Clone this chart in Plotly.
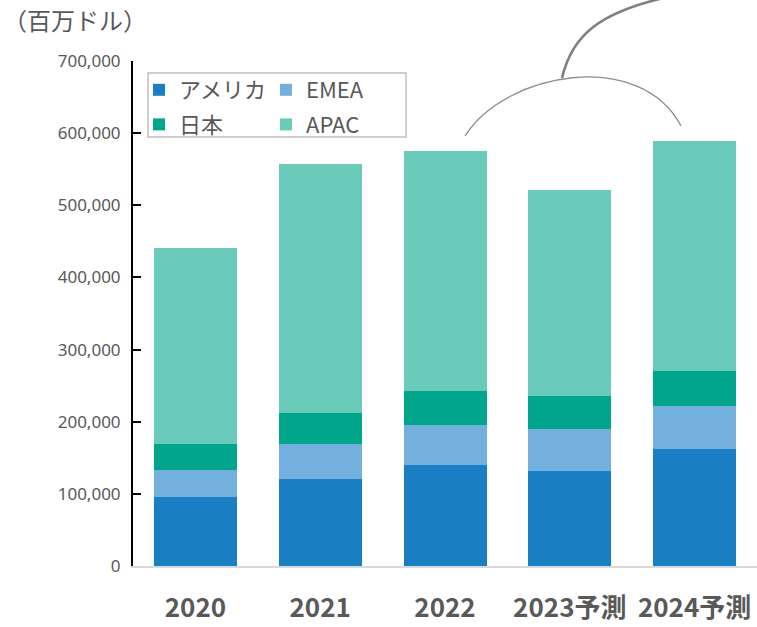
import plotly.graph_objects as go

categories = ["2020", "2021", "2022", "2023予測", "2024予測"]
america = [95800, 120800, 140300, 132000, 161500]
emea = [37500, 48600, 54600, 58300, 60700]
japan = [36100, 43100, 47200, 45800, 48600]
apac = [270900, 344400, 332900, 284700, 318100]
y_ticks = [0, 100000, 200000, 300000, 400000, 500000, 600000, 700000]

series = [
    ("アメリカ", america, "#1A7EC2", "legend", "g1"),
    ("EMEA", emea, "#74B0DD", "legend2", "g2"),
    ("日本", japan, "#00A68C", "legend", "g3"),
    ("APAC", apac, "#6BCBBB", "legend2", "g4"),
]

W, H = 757, 627
L, R, T, B = 133, 0, 61, 61
pw, ph = W - L - R, H - T - B

def px(x):
    return (x - L) / pw

def py(y):
    return (H - B - y) / ph

fig = go.Figure()
for name, vals, color, leg, grp in series:
    fig.add_trace(go.Bar(
        x=categories, y=vals, name=name, marker_color=color,
        marker_line_width=0, width=0.665, legend=leg, legendgroup=grp,
    ))

font_main = "Noto Sans CJK JP"
legend_common = dict(
    bgcolor="rgba(0,0,0,0)", borderwidth=0,
    font=dict(family=font_main, size=22, color="#595959"),
    traceorder="grouped", tracegroupgap=3,
    xanchor="left", yanchor="top", xref="paper", yref="paper",
)
fig.update_layout(
    width=W, height=H,
    margin=dict(l=L, r=R, t=T, b=B),
    paper_bgcolor="white", plot_bgcolor="white",
    barmode="stack", bargap=0.335,
    font=dict(family=font_main, color="#595959"),
    legend=dict(x=px(139), y=py(69), **legend_common),
    legend2=dict(x=px(266), y=py(69), **legend_common),
    xaxis=dict(
        showline=True, linecolor="#D9D9D9", linewidth=2,
        showgrid=False, ticks="", ticklabelstandoff=18,
        tickfont=dict(family=font_main, size=26, color="#595959", weight="bold"),
        range=[-0.5, 4.5],
    ),
    yaxis=dict(
        range=[0, 700000], tickvals=y_ticks, tickformat=",",
        showline=True, linecolor="black", linewidth=2,
        ticks="inside", ticklen=8, tickwidth=2, tickcolor="black",
        showgrid=False, zeroline=False,
        tickfont=dict(family="Noto Sans", size=17, color="#595959"),
        ticklabelstandoff=7,
    ),
    showlegend=True,
)

fig.add_annotation(
    text="（百万ドル）", xref="paper", yref="paper",
    x=px(1), y=py(20), xanchor="left", yanchor="middle",
    showarrow=False, font=dict(family=font_main, size=24, color="#595959"),
)

# legend frame
fig.add_shape(type="rect", xref="paper", yref="paper",
              x0=px(148), x1=px(406), y0=py(137), y1=py(73),
              line=dict(color="#BFBFBF", width=1.5), fillcolor="rgba(0,0,0,0)")

# decorative arcs
def path(points):
    (x0, y0), (x1, y1), (x2, y2), (x3, y3) = points
    return (f"M {px(x0)},{py(y0)} C {px(x1)},{py(y1)} {px(x2)},{py(y2)} "
            f"{px(x3)},{py(y3)}")

fig.add_shape(type="path", xref="paper", yref="paper",
              path=path([(465, 136), (505, 72), (640, 48), (681, 126)]),
              line=dict(color="#8C8C8C", width=1.3))
fig.add_shape(type="path", xref="paper", yref="paper",
              path=path([(562, 78), (572, 35), (600, 12), (668, -3)]),
              line=dict(color="#808080", width=2.6))

fig.write_html("out.html")
